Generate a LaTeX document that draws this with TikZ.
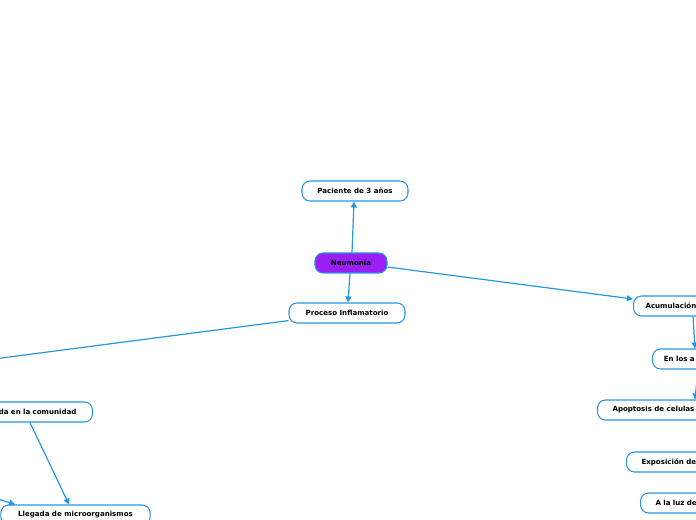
\documentclass[tikz,border=0pt]{standalone}
\usepackage{fontspec}
\setmainfont{DejaVu Sans}
\usetikzlibrary{arrows.meta}
\definecolor{mapblue}{RGB}{38,150,228}
\definecolor{mappurple}{RGB}{152,32,242}
\tikzset{
    topic/.style={draw=mapblue, line width=0.8pt, fill=white, rounded corners=6pt, minimum height=15pt, inner ysep=0pt, font=\bfseries\fontsize{5.3pt}{6pt}\selectfont, text=black},
    central/.style={topic, fill=mappurple},
    cutright/.style={topic, anchor=west, text width=90pt, align=left, inner xsep=11.25pt},
    cutleft/.style={topic, anchor=east, text width=90pt, align=right, inner xsep=12pt},
    link/.style={draw=mapblue, line width=0.9pt, -{Triangle[length=4.5pt, width=4.5pt]}},
    map settings/.style={x=0.75pt, y=-0.75pt}
}

\begin{document}
\begin{tikzpicture}[map settings]

    % Frame (pixel coordinates, y downwards)
    \useasboundingbox (0,0) rectangle (696,520);
    \clip (0,0) rectangle (696,520);

    % Centre and its near neighbours
    \node[central, minimum width=54pt] (neu) at (351,263) {Neumonía};
    \node[topic, minimum width=79.5pt] (pac) at (355,191) {Paciente de 3 años};
    \node[topic, minimum width=87pt] (pro) at (347,313) {Proceso Inflamatorio};

    % Right branch (runs off the page)
    \node[cutright, inner xsep=9pt] (acu) at (633,306) {Acumulación};
    \node[cutright, inner xsep=8.5pt] (enl) at (652,359) {En los a};
    \node[cutright] (apo) at (597,410) {Apoptosis de celulas};
    \node[cutright] (exp) at (626,462) {Exposición de};
    \node[cutright] (luz) at (640,503) {A la luz de};

    % Left branch (runs off the page)
    \node[cutleft] (com) at (93,412) {da en la comunidad};
    \node[topic, minimum width=112pt] (lle) at (75.5,515) {Llegada de microorganismos};
    \coordinate (adq) at (-60,366);
    \coordinate (lft) at (-30,490);

    % Connectors
    \draw[link] (neu.north -| 352,0) -- (pac.south -| 354,0);
    \draw[link] (neu.south -| 350,0) -- (pro.north -| 348,0);
    \draw[link] (neu.east |- 0,267) -- (acu.west |- 0,299);
    \draw[link] (pro) -- (adq);
    \draw[link] (acu.south -| 693,0) -- (enl.north -| 695,0);
    \draw[link] (enl.south -| 698,0) -- (apo.north -| 695,0);
    \draw[link] (com.south -| 30,0) -- (lle.north -| 69,0);
    \draw[link] (lft) -- (lle.north -| 15,0);

\end{tikzpicture}
\end{document}
